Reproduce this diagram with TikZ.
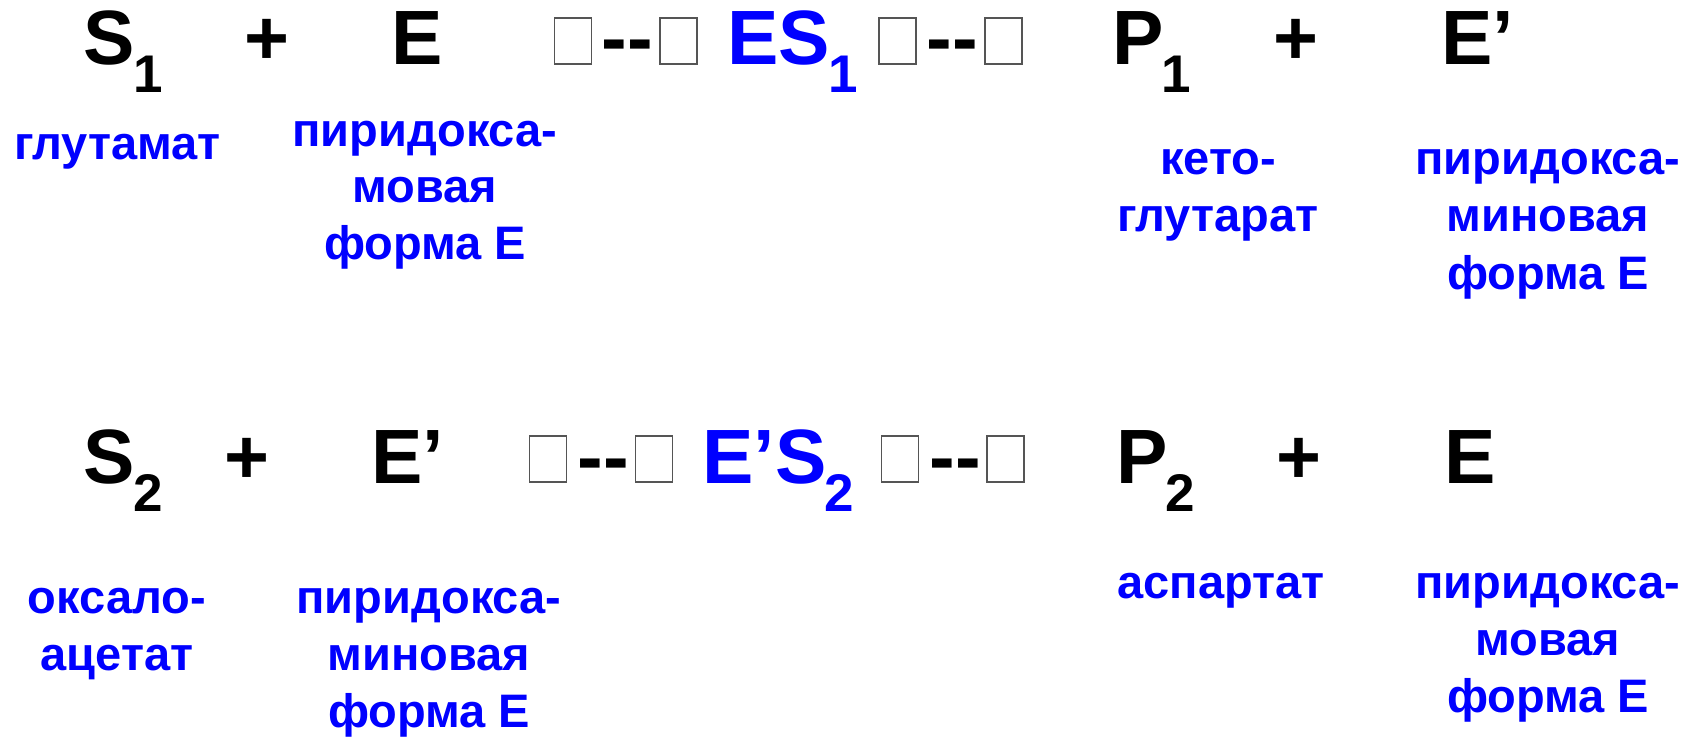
\documentclass[tikz,border=0pt]{standalone}
\usepackage{fontspec}
\setmainfont{Liberation Sans}
\definecolor{lblue}{RGB}{0,0,255}
\definecolor{tofu}{RGB}{85,85,85}
\newcommand\subx[1]{\kern-2pt\raisebox{-28pt}{\fontsize{53}{60}\selectfont #1}}
\tikzset{
  big/.style={inner sep=0pt, anchor=base, font=\fontsize{77}{90}\selectfont\bfseries},
  bigw/.style={big, anchor=base west},
  lbl/.style={inner sep=0pt, anchor=base, text=lblue, font=\fontsize{47}{57}\selectfont\bfseries},
  tofubox/.style={draw=tofu, line width=1.3pt, fill=white, inner sep=0pt, minimum width=37pt, minimum height=46pt},
}
\begin{document}
\begin{tikzpicture}[x=1pt,y=-1pt]
\useasboundingbox (0,0) rectangle (1702,738);
% ---------- row 1 ----------
\node[bigw] (s1) at (83.5,65) {S\subx{1}};
\node[big] (plus11) at (267,65) {+};
\node[big] (e1) at (417.5,65) {E};
\node[tofubox] (b11) at (573,41) {};
\node[big] (d11) at (627.5,65) {-{}-};
\node[tofubox] (b12) at (678.5,41) {};
\node[bigw, text=lblue] (es1) at (727.4,65) {ES\subx{1}};
\node[tofubox] (b13) at (897.5,41) {};
\node[big] (d12) at (952,65) {-{}-};
\node[tofubox] (b14) at (1003.5,41) {};
\node[bigw] (p1) at (1112.4,65) {P\subx{1}};
\node[big] (plus12) at (1296,65) {+};
\node[bigw] (ep1) at (1441.4,65) {E’};
% labels row 1
\node[lbl] (l11) at (117.5,160) {глутамат};
\node[lbl] (l12a) at (425,147) {пиридокса-};
\node[lbl] (l12b) at (425,203) {мовая};
\node[lbl] (l12c) at (425,259) {форма E};
\node[lbl] (l13a) at (1218,175) {кето-};
\node[lbl] (l13b) at (1218,232) {глутарат};
\node[lbl] (l14a) at (1548,175) {пиридокса-};
\node[lbl] (l14b) at (1548,232) {миновая};
\node[lbl] (l14c) at (1548,289) {форма E};
% ---------- row 2 ----------
\node[bigw] (s2) at (83.5,483) {S\subx{2}};
\node[big] (plus21) at (246.5,483) {+};
\node[bigw] (ep2) at (371.4,483) {E’};
\node[tofubox] (b21) at (548,459) {};
\node[big] (d21) at (603,483) {-{}-};
\node[tofubox] (b22) at (654,459) {};
\node[bigw, text=lblue] (eps2) at (702.4,483) {E’S\subx{2}};
\node[tofubox] (b23) at (900,459) {};
\node[big] (d22) at (955,483) {-{}-};
\node[tofubox] (b24) at (1005.5,459) {};
\node[bigw] (p2) at (1116.4,483) {P\subx{2}};
\node[big] (plus22) at (1299,483) {+};
\node[big] (e2) at (1470.5,483) {E};
% labels row 2
\node[lbl] (l21a) at (117,613) {оксало-};
\node[lbl] (l21b) at (117,670) {ацетат};
\node[lbl] (l22a) at (429,613) {пиридокса-};
\node[lbl] (l22b) at (429,670) {миновая};
\node[lbl] (l22c) at (429,727) {форма E};
\node[lbl] (l23) at (1221,598) {аспартат};
\node[lbl] (l24a) at (1548,598) {пиридокса-};
\node[lbl] (l24b) at (1548,655) {мовая};
\node[lbl] (l24c) at (1548,712) {форма E};
\end{tikzpicture}
\end{document}
